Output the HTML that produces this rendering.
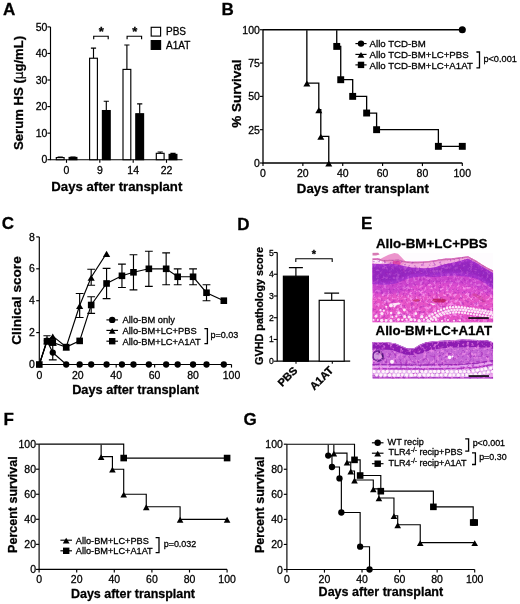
<!DOCTYPE html>
<html lang="en"><head><meta charset="utf-8"><title>Figure</title>
<style>html,body{margin:0;padding:0;background:#fff}svg{display:block}text{font-family:"Liberation Sans",sans-serif;fill:#000;stroke:#000;stroke-width:0.28px}</style>
</head><body>
<svg width="520" height="604" viewBox="0 0 520 604">
<rect width="520" height="604" fill="#fff"/>
<text x="3.00" y="14.60" font-size="17" font-weight="bold">A</text>
<text x="221.50" y="14.60" font-size="17" font-weight="bold">B</text>
<text x="1.80" y="228.90" font-size="17" font-weight="bold">C</text>
<text x="237.30" y="229.80" font-size="17" font-weight="bold">D</text>
<text x="361.10" y="228.70" font-size="17" font-weight="bold">E</text>
<text x="3.40" y="425.10" font-size="17" font-weight="bold">F</text>
<text x="243.50" y="425.40" font-size="17" font-weight="bold">G</text>
<path d="M50.5,26.90 V159.7 H182.5" fill="none" stroke="#000" stroke-width="1.15" />
<line x1="47.40" y1="159.70" x2="50.50" y2="159.70" stroke="#000" stroke-width="1.15"/>
<text x="47.40" y="163.30" font-size="10.5" text-anchor="end">0</text>
<line x1="47.40" y1="133.14" x2="50.50" y2="133.14" stroke="#000" stroke-width="1.15"/>
<text x="47.40" y="136.74" font-size="10.5" text-anchor="end">10</text>
<line x1="47.40" y1="106.58" x2="50.50" y2="106.58" stroke="#000" stroke-width="1.15"/>
<text x="47.40" y="110.18" font-size="10.5" text-anchor="end">20</text>
<line x1="47.40" y1="80.02" x2="50.50" y2="80.02" stroke="#000" stroke-width="1.15"/>
<text x="47.40" y="83.62" font-size="10.5" text-anchor="end">30</text>
<line x1="47.40" y1="53.46" x2="50.50" y2="53.46" stroke="#000" stroke-width="1.15"/>
<text x="47.40" y="57.06" font-size="10.5" text-anchor="end">40</text>
<line x1="47.40" y1="26.90" x2="50.50" y2="26.90" stroke="#000" stroke-width="1.15"/>
<text x="47.40" y="30.50" font-size="10.5" text-anchor="end">50</text>
<line x1="66.50" y1="159.70" x2="66.50" y2="162.80" stroke="#000" stroke-width="1.15"/>
<text x="66.50" y="174.10" font-size="10.5" text-anchor="middle">0</text>
<line x1="99.80" y1="159.70" x2="99.80" y2="162.80" stroke="#000" stroke-width="1.15"/>
<text x="99.80" y="174.10" font-size="10.5" text-anchor="middle">9</text>
<line x1="133.20" y1="159.70" x2="133.20" y2="162.80" stroke="#000" stroke-width="1.15"/>
<text x="133.20" y="174.10" font-size="10.5" text-anchor="middle">14</text>
<line x1="166.50" y1="159.70" x2="166.50" y2="162.80" stroke="#000" stroke-width="1.15"/>
<text x="166.50" y="174.10" font-size="10.5" text-anchor="middle">22</text>
<path d="M57.60,157.04 H62.80 M60.20,157.04 V157.58" fill="none" stroke="#000" stroke-width="1.15" />
<path d="M70.40,157.04 H75.60 M73.00,157.04 V157.44" fill="none" stroke="#000" stroke-width="1.15" />
<rect x="56.30" y="157.58" width="7.8" height="2.12" fill="#fff" stroke="#000" stroke-width="1.15"/>
<rect x="69.10" y="157.44" width="7.8" height="2.26" fill="#000" stroke="#000" stroke-width="1.15"/>
<path d="M90.90,48.15 H96.10 M93.50,48.15 V58.24" fill="none" stroke="#000" stroke-width="1.15" />
<path d="M103.70,101.27 H108.90 M106.30,101.27 V110.56" fill="none" stroke="#000" stroke-width="1.15" />
<rect x="89.60" y="58.24" width="7.8" height="101.46" fill="#fff" stroke="#000" stroke-width="1.15"/>
<rect x="102.40" y="110.56" width="7.8" height="49.14" fill="#000" stroke="#000" stroke-width="1.15"/>
<path d="M124.30,44.96 H129.50 M126.90,44.96 V69.40" fill="none" stroke="#000" stroke-width="1.15" />
<path d="M137.10,103.92 H142.30 M139.70,103.92 V113.75" fill="none" stroke="#000" stroke-width="1.15" />
<rect x="123.00" y="69.40" width="7.8" height="90.30" fill="#fff" stroke="#000" stroke-width="1.15"/>
<rect x="135.80" y="113.75" width="7.8" height="45.95" fill="#000" stroke="#000" stroke-width="1.15"/>
<path d="M157.60,152.00 H162.80 M160.20,152.00 V153.33" fill="none" stroke="#000" stroke-width="1.15" />
<path d="M170.40,153.33 H175.60 M173.00,153.33 V154.39" fill="none" stroke="#000" stroke-width="1.15" />
<rect x="156.30" y="153.33" width="7.8" height="6.37" fill="#fff" stroke="#000" stroke-width="1.15"/>
<rect x="169.10" y="154.39" width="7.8" height="5.31" fill="#000" stroke="#000" stroke-width="1.15"/>
<path d="M93.70,39.3 V36.2 H108.20 V39.3" fill="none" stroke="#000" stroke-width="1.15" />
<text x="101.40" y="36.20" font-size="13" text-anchor="middle" font-weight="bold">*</text>
<path d="M127.10,39.3 V36.2 H141.60 V39.3" fill="none" stroke="#000" stroke-width="1.15" />
<text x="134.80" y="36.20" font-size="13" text-anchor="middle" font-weight="bold">*</text>
<rect x="151.2" y="27.3" width="9.4" height="8.8" fill="#fff" stroke="#000" stroke-width="1.15"/>
<rect x="151.2" y="40.6" width="9.4" height="8.8" fill="#000" stroke="#000" stroke-width="1.15"/>
<text x="166.00" y="35.30" font-size="10">PBS</text>
<text x="166.00" y="48.60" font-size="10">A1AT</text>
<text x="116.80" y="191.00" font-size="13" text-anchor="middle" font-weight="bold" textLength="131.0" lengthAdjust="spacingAndGlyphs">Days after transplant</text>
<text x="23.20" y="92.90" font-size="13.15" text-anchor="middle" font-weight="bold" transform="rotate(-90 23.20 92.90)">Serum HS (<tspan font-family="'DejaVu Sans',sans-serif" font-weight="normal" font-size="12">μ</tspan>g/mL)</text>
<path d="M263.0,29.75 V163.0 H462.30" fill="none" stroke="#000" stroke-width="1.3" />
<line x1="259.90" y1="163.00" x2="263.00" y2="163.00" stroke="#000" stroke-width="1.15"/>
<text x="259.90" y="167.00" font-size="10.5" text-anchor="end">0</text>
<line x1="259.90" y1="129.69" x2="263.00" y2="129.69" stroke="#000" stroke-width="1.15"/>
<text x="259.90" y="133.69" font-size="10.5" text-anchor="end">25</text>
<line x1="259.90" y1="96.38" x2="263.00" y2="96.38" stroke="#000" stroke-width="1.15"/>
<text x="259.90" y="100.38" font-size="10.5" text-anchor="end">50</text>
<line x1="259.90" y1="63.06" x2="263.00" y2="63.06" stroke="#000" stroke-width="1.15"/>
<text x="259.90" y="67.06" font-size="10.5" text-anchor="end">75</text>
<line x1="259.90" y1="29.75" x2="263.00" y2="29.75" stroke="#000" stroke-width="1.15"/>
<text x="259.90" y="33.75" font-size="10.5" text-anchor="end">100</text>
<line x1="263.00" y1="163.00" x2="263.00" y2="166.10" stroke="#000" stroke-width="1.15"/>
<text x="263.00" y="176.50" font-size="10.5" text-anchor="middle">0</text>
<line x1="302.86" y1="163.00" x2="302.86" y2="166.10" stroke="#000" stroke-width="1.15"/>
<text x="302.86" y="176.50" font-size="10.5" text-anchor="middle">20</text>
<line x1="342.72" y1="163.00" x2="342.72" y2="166.10" stroke="#000" stroke-width="1.15"/>
<text x="342.72" y="176.50" font-size="10.5" text-anchor="middle">40</text>
<line x1="382.58" y1="163.00" x2="382.58" y2="166.10" stroke="#000" stroke-width="1.15"/>
<text x="382.58" y="176.50" font-size="10.5" text-anchor="middle">60</text>
<line x1="422.44" y1="163.00" x2="422.44" y2="166.10" stroke="#000" stroke-width="1.15"/>
<text x="422.44" y="176.50" font-size="10.5" text-anchor="middle">80</text>
<line x1="462.30" y1="163.00" x2="462.30" y2="166.10" stroke="#000" stroke-width="1.15"/>
<text x="462.30" y="176.50" font-size="10.5" text-anchor="middle">100</text>
<text x="362.80" y="192.80" font-size="13.2" text-anchor="middle" font-weight="bold" textLength="132.0" lengthAdjust="spacingAndGlyphs">Days after transplant</text>
<text x="240.80" y="93.50" font-size="13.5" text-anchor="middle" font-weight="bold" transform="rotate(-90 240.80 93.50)">% Survival</text>
<path d="M263.00,29.75 H462.30" fill="none" stroke="#000" stroke-width="1.3" />
<circle cx="462.30" cy="29.75" r="3.55" fill="#000"/>
<path d="M306.85,30.25 H306.85 V83.05 H318.80 V109.70 H320.80 V136.35 H328.77 V163.00" fill="none" stroke="#000" stroke-width="1.3" />
<path d="M306.85,80.53 L310.35,86.53 L303.35,86.53 Z" fill="#000"/>
<path d="M318.80,107.18 L322.30,113.18 L315.30,113.18 Z" fill="#000"/>
<path d="M320.80,133.83 L324.30,139.83 L317.30,139.83 Z" fill="#000"/>
<path d="M328.77,160.48 L332.27,166.48 L325.27,166.48 Z" fill="#000"/>
<path d="M336.74,30.25 H336.74 V46.41 H340.73 V79.72 H352.69 V96.38 H366.64 V113.03 H376.60 V129.69 H438.38 V146.34 H462.30" fill="none" stroke="#000" stroke-width="1.3" />
<rect x="333.29" y="42.96" width="6.9" height="6.9" fill="#000"/>
<rect x="337.28" y="76.27" width="6.9" height="6.9" fill="#000"/>
<rect x="349.24" y="92.92" width="6.9" height="6.9" fill="#000"/>
<rect x="363.19" y="109.58" width="6.9" height="6.9" fill="#000"/>
<rect x="373.15" y="126.24" width="6.9" height="6.9" fill="#000"/>
<rect x="434.93" y="142.89" width="6.9" height="6.9" fill="#000"/>
<rect x="458.85" y="142.89" width="6.9" height="6.9" fill="#000"/>
<line x1="355.40" y1="43.60" x2="366.60" y2="43.60" stroke="#000" stroke-width="1.15"/>
<circle cx="361.00" cy="43.60" r="3.2" fill="#000"/>
<line x1="355.40" y1="54.40" x2="366.60" y2="54.40" stroke="#000" stroke-width="1.15"/>
<path d="M361.00,52.01 L364.40,57.71 L357.60,57.71 Z" fill="#000"/>
<line x1="355.40" y1="64.90" x2="366.60" y2="64.90" stroke="#000" stroke-width="1.15"/>
<rect x="357.80" y="61.70" width="6.4" height="6.4" fill="#000"/>
<text x="369.60" y="47.20" font-size="9.66">Allo TCD-BM</text>
<text x="369.60" y="57.90" font-size="9.66">Allo TCD-BM+LC+PBS</text>
<text x="369.60" y="68.50" font-size="9.66">Allo TCD-BM+LC+A1AT</text>
<path d="M476.4,52 H479.5 V67.9 H476.4" fill="none" stroke="#000" stroke-width="1.3" />
<text x="483.40" y="61.50" font-size="9.2">p&lt;0.001</text>
<path d="M39.3,236.90 V364.5 H231.50" fill="none" stroke="#000" stroke-width="1.15" />
<line x1="36.20" y1="364.50" x2="39.30" y2="364.50" stroke="#000" stroke-width="1.15"/>
<text x="34.80" y="368.10" font-size="10.5" text-anchor="end">0</text>
<line x1="36.20" y1="332.60" x2="39.30" y2="332.60" stroke="#000" stroke-width="1.15"/>
<text x="34.80" y="336.20" font-size="10.5" text-anchor="end">2</text>
<line x1="36.20" y1="300.70" x2="39.30" y2="300.70" stroke="#000" stroke-width="1.15"/>
<text x="34.80" y="304.30" font-size="10.5" text-anchor="end">4</text>
<line x1="36.20" y1="268.80" x2="39.30" y2="268.80" stroke="#000" stroke-width="1.15"/>
<text x="34.80" y="272.40" font-size="10.5" text-anchor="end">6</text>
<line x1="36.20" y1="236.90" x2="39.30" y2="236.90" stroke="#000" stroke-width="1.15"/>
<text x="34.80" y="240.50" font-size="10.5" text-anchor="end">8</text>
<line x1="39.30" y1="364.50" x2="39.30" y2="367.60" stroke="#000" stroke-width="1.15"/>
<text x="39.30" y="378.90" font-size="10.5" text-anchor="middle">0</text>
<line x1="77.74" y1="364.50" x2="77.74" y2="367.60" stroke="#000" stroke-width="1.15"/>
<text x="77.74" y="378.90" font-size="10.5" text-anchor="middle">20</text>
<line x1="116.18" y1="364.50" x2="116.18" y2="367.60" stroke="#000" stroke-width="1.15"/>
<text x="116.18" y="378.90" font-size="10.5" text-anchor="middle">40</text>
<line x1="154.62" y1="364.50" x2="154.62" y2="367.60" stroke="#000" stroke-width="1.15"/>
<text x="154.62" y="378.90" font-size="10.5" text-anchor="middle">60</text>
<line x1="193.06" y1="364.50" x2="193.06" y2="367.60" stroke="#000" stroke-width="1.15"/>
<text x="193.06" y="378.90" font-size="10.5" text-anchor="middle">80</text>
<line x1="231.50" y1="364.50" x2="231.50" y2="367.60" stroke="#000" stroke-width="1.15"/>
<text x="231.50" y="378.90" font-size="10.5" text-anchor="middle">100</text>
<text x="135.60" y="394.00" font-size="13" text-anchor="middle" font-weight="bold" textLength="126.9" lengthAdjust="spacingAndGlyphs">Days after transplant</text>
<text x="21.20" y="300.50" font-size="13.6" text-anchor="middle" font-weight="bold" transform="rotate(-90 21.20 300.50)">Clinical score</text>
<path d="M48.85,345.20 H56.65 M52.75,345.20 V359.87 M48.85,359.87 H56.65" fill="none" stroke="#000" stroke-width="1.15" />
<path d="M43.39,335.79 H50.59 M46.99,335.79 V340.57" fill="none" stroke="#000" stroke-width="1.15" />
<path d="M75.76,293.52 H83.56 M79.66,293.52 V317.45 M75.76,317.45 H83.56" fill="none" stroke="#000" stroke-width="1.15" />
<path d="M87.29,269.28 H95.09 M91.19,269.28 V285.23 M87.29,285.23 H95.09" fill="none" stroke="#000" stroke-width="1.15" />
<path d="M87.29,296.71 H95.09 M91.19,296.71 V313.30 M87.29,313.30 H95.09" fill="none" stroke="#000" stroke-width="1.15" />
<path d="M102.67,268.32 H110.47 M106.57,268.32 V298.63 M102.67,298.63 H110.47" fill="none" stroke="#000" stroke-width="1.15" />
<path d="M118.05,264.17 H125.85 M121.95,264.17 V287.46 M118.05,287.46 H125.85" fill="none" stroke="#000" stroke-width="1.15" />
<path d="M129.58,254.76 H137.38 M133.48,254.76 V289.85 M129.58,289.85 H137.38" fill="none" stroke="#000" stroke-width="1.15" />
<path d="M144.95,251.25 H152.75 M148.85,251.25 V286.35 M144.95,286.35 H152.75" fill="none" stroke="#000" stroke-width="1.15" />
<path d="M162.25,252.85 H170.05 M166.15,252.85 V284.75 M162.25,284.75 H170.05" fill="none" stroke="#000" stroke-width="1.15" />
<path d="M173.78,268.80 H181.58 M177.68,268.80 V284.75 M173.78,284.75 H181.58" fill="none" stroke="#000" stroke-width="1.15" />
<path d="M189.16,268.80 H196.96 M193.06,268.80 V284.75 M189.16,284.75 H196.96" fill="none" stroke="#000" stroke-width="1.15" />
<path d="M202.61,284.75 H210.41 M206.51,284.75 V300.70 M202.61,300.70 H210.41" fill="none" stroke="#000" stroke-width="1.15" />
<path d="M39.30,364.50 L46.99,340.57 L52.75,352.54 L66.21,364.50 L79.66,364.50 L91.19,364.50 L106.57,364.50 L121.95,364.50 L133.48,364.50 L148.85,364.50 L166.15,364.50 L177.68,364.50 L193.06,364.50 L206.51,364.50 L223.81,364.50" fill="none" stroke="#000" stroke-width="1.15" />
<path d="M39.30,364.50 L46.99,340.57 L52.75,336.11 L66.21,346.95 L79.66,305.49 L91.19,277.25 L106.57,253.33" fill="none" stroke="#000" stroke-width="1.15" />
<path d="M39.30,364.50 L46.99,341.37 L52.75,342.49 L66.21,347.11 L79.66,340.89 L91.19,305.01 L106.57,283.47 L121.95,275.82 L133.48,272.31 L148.85,268.80 L166.15,268.80 L177.68,276.77 L193.06,276.77 L206.51,292.73 L223.81,300.70" fill="none" stroke="#000" stroke-width="1.15" />
<circle cx="46.99" cy="340.57" r="3.15" fill="#000"/>
<circle cx="52.75" cy="352.54" r="3.15" fill="#000"/>
<circle cx="66.21" cy="364.50" r="3.15" fill="#000"/>
<circle cx="79.66" cy="364.50" r="3.15" fill="#000"/>
<circle cx="91.19" cy="364.50" r="3.15" fill="#000"/>
<circle cx="106.57" cy="364.50" r="3.15" fill="#000"/>
<circle cx="121.95" cy="364.50" r="3.15" fill="#000"/>
<circle cx="133.48" cy="364.50" r="3.15" fill="#000"/>
<circle cx="148.85" cy="364.50" r="3.15" fill="#000"/>
<circle cx="166.15" cy="364.50" r="3.15" fill="#000"/>
<circle cx="177.68" cy="364.50" r="3.15" fill="#000"/>
<circle cx="193.06" cy="364.50" r="3.15" fill="#000"/>
<circle cx="206.51" cy="364.50" r="3.15" fill="#000"/>
<circle cx="223.81" cy="364.50" r="3.15" fill="#000"/>
<path d="M46.99,337.97 L50.59,344.17 L43.39,344.17 Z" fill="#000"/>
<path d="M52.75,333.50 L56.35,339.70 L49.15,339.70 Z" fill="#000"/>
<path d="M66.21,344.35 L69.81,350.55 L62.61,350.55 Z" fill="#000"/>
<path d="M79.66,302.88 L83.26,309.08 L76.06,309.08 Z" fill="#000"/>
<path d="M91.19,274.65 L94.79,280.85 L87.59,280.85 Z" fill="#000"/>
<path d="M106.57,250.72 L110.17,256.92 L102.97,256.92 Z" fill="#000"/>
<rect x="36.00" y="361.20" width="6.6" height="6.6" fill="#000"/>
<rect x="43.69" y="338.07" width="6.6" height="6.6" fill="#000"/>
<rect x="49.45" y="339.19" width="6.6" height="6.6" fill="#000"/>
<rect x="62.91" y="343.81" width="6.6" height="6.6" fill="#000"/>
<rect x="76.36" y="337.59" width="6.6" height="6.6" fill="#000"/>
<rect x="87.89" y="301.71" width="6.6" height="6.6" fill="#000"/>
<rect x="103.27" y="280.17" width="6.6" height="6.6" fill="#000"/>
<rect x="118.65" y="272.52" width="6.6" height="6.6" fill="#000"/>
<rect x="130.18" y="269.01" width="6.6" height="6.6" fill="#000"/>
<rect x="145.55" y="265.50" width="6.6" height="6.6" fill="#000"/>
<rect x="162.85" y="265.50" width="6.6" height="6.6" fill="#000"/>
<rect x="174.38" y="273.47" width="6.6" height="6.6" fill="#000"/>
<rect x="189.76" y="273.47" width="6.6" height="6.6" fill="#000"/>
<rect x="203.21" y="289.43" width="6.6" height="6.6" fill="#000"/>
<rect x="220.51" y="297.40" width="6.6" height="6.6" fill="#000"/>
<line x1="106.40" y1="319.90" x2="118.00" y2="319.90" stroke="#000" stroke-width="1.15"/>
<circle cx="112.20" cy="319.90" r="3.2" fill="#000"/>
<line x1="106.40" y1="330.40" x2="118.00" y2="330.40" stroke="#000" stroke-width="1.15"/>
<path d="M112.20,328.01 L115.60,333.71 L108.80,333.71 Z" fill="#000"/>
<line x1="106.40" y1="341.20" x2="118.00" y2="341.20" stroke="#000" stroke-width="1.15"/>
<rect x="109.00" y="338.00" width="6.4" height="6.4" fill="#000"/>
<text x="122.50" y="323.10" font-size="9.35">Allo-BM only</text>
<text x="122.50" y="333.70" font-size="9.35">Allo-BM+LC+PBS</text>
<text x="122.50" y="344.70" font-size="9.35">Allo-BM+LC+A1AT</text>
<path d="M204.4,328.6 H207.4 V343.6 H204.4" fill="none" stroke="#000" stroke-width="1.3" />
<text x="210.60" y="337.90" font-size="9">p=0.03</text>
<path d="M277.2,252.50 V361.2 H350.2" fill="none" stroke="#000" stroke-width="1.2" />
<line x1="273.60" y1="361.20" x2="277.20" y2="361.20" stroke="#000" stroke-width="1.1"/>
<text x="273.70" y="364.20" font-size="8.6" text-anchor="end">0</text>
<line x1="273.60" y1="339.46" x2="277.20" y2="339.46" stroke="#000" stroke-width="1.1"/>
<text x="273.70" y="342.46" font-size="8.6" text-anchor="end">1</text>
<line x1="273.60" y1="317.72" x2="277.20" y2="317.72" stroke="#000" stroke-width="1.1"/>
<text x="273.70" y="320.72" font-size="8.6" text-anchor="end">2</text>
<line x1="273.60" y1="295.98" x2="277.20" y2="295.98" stroke="#000" stroke-width="1.1"/>
<text x="273.70" y="298.98" font-size="8.6" text-anchor="end">3</text>
<line x1="273.60" y1="274.24" x2="277.20" y2="274.24" stroke="#000" stroke-width="1.1"/>
<text x="273.70" y="277.24" font-size="8.6" text-anchor="end">4</text>
<line x1="273.60" y1="252.50" x2="277.20" y2="252.50" stroke="#000" stroke-width="1.1"/>
<text x="273.70" y="255.50" font-size="8.6" text-anchor="end">5</text>
<path d="M288.90,267.72 H302.90 M295.90,267.72 V276.20" fill="none" stroke="#000" stroke-width="1.2" />
<path d="M324.30,293.15 H339.10 M331.70,293.15 V300.33" fill="none" stroke="#000" stroke-width="1.2" />
<rect x="283.4" y="276.20" width="25" height="85.00" fill="#000" stroke="#000" stroke-width="1.2"/>
<rect x="319.2" y="300.33" width="25" height="60.87" fill="#fff" stroke="#000" stroke-width="1.2"/>
<path d="M295.8,262 V258.8 H332.2 V262" fill="none" stroke="#000" stroke-width="1.1" />
<text x="314.00" y="257.50" font-size="11" text-anchor="middle" font-weight="bold">*</text>
<text x="263.20" y="306.00" font-size="10.5" text-anchor="middle" font-weight="bold" textLength="118.0" lengthAdjust="spacingAndGlyphs" transform="rotate(-90 263.20 306.00)">GVHD pathology score</text>
<text x="298.20" y="371.20" font-size="11" text-anchor="end" font-weight="bold" transform="rotate(-45 298.20 371.20)">PBS</text>
<line x1="296.00" y1="361.20" x2="296.00" y2="363.80" stroke="#000" stroke-width="1.1"/>
<line x1="332.30" y1="361.20" x2="332.30" y2="363.80" stroke="#000" stroke-width="1.1"/>
<text x="334.00" y="371.00" font-size="11" text-anchor="end" font-weight="bold" transform="rotate(-45 334.00 371.00)">A1AT</text>
<text x="431.70" y="248.10" font-size="12.6" text-anchor="middle" font-weight="bold" textLength="111.6" lengthAdjust="spacingAndGlyphs">Allo-BM+LC+PBS</text>
<text x="433.80" y="335.00" font-size="12.5" text-anchor="middle" font-weight="bold" textLength="116.4" lengthAdjust="spacingAndGlyphs">Allo-BM+LC+A1AT</text>
<defs>
<filter id="nzL" x="0" y="0" width="100%" height="100%" filterUnits="objectBoundingBox" color-interpolation-filters="sRGB">
<feTurbulence type="fractalNoise" baseFrequency="0.3" numOctaves="3" seed="4"/>
<feColorMatrix type="matrix" values="0 0 0 0 0.98  0 0 0 0 0.60  0 0 0 0 0.93  5 0 0 0 -2.55"/>
</filter>
<filter id="nzD" x="0" y="0" width="100%" height="100%" filterUnits="objectBoundingBox" color-interpolation-filters="sRGB">
<feTurbulence type="fractalNoise" baseFrequency="0.36" numOctaves="3" seed="11"/>
<feColorMatrix type="matrix" values="0 0 0 0 0.60  0 0 0 0 0.10  0 0 0 0 0.70  0 5 0 0 -2.65"/>
</filter>
<filter id="bl" x="-5%" y="-5%" width="110%" height="110%"><feGaussianBlur stdDeviation="0.45"/></filter>
<filter id="bl2" x="-10%" y="-10%" width="120%" height="120%"><feGaussianBlur stdDeviation="1.1"/></filter>
<clipPath id="im1"><rect x="372.3" y="252.6" width="121" height="69.9"/></clipPath>
<clipPath id="im2"><rect x="372.3" y="338" width="121" height="40.8"/></clipPath>
<clipPath id="ts1"><path d="M372.3,258.6 L378.0,258.2 L384.0,260.0 L390.0,259.4 L398.0,259.2 L406.0,261.2 L412.0,261.8 L423.0,261.4 L429.0,261.0 L435.0,260.2 L440.0,259.2 L446.0,258.6 L452.0,258.2 L458.0,257.4 L468.0,256.2 L476.0,260.4 L482.0,264.4 L488.0,268.0 L493.3,270.6 V322.5 H372.3 Z"/></clipPath>
<clipPath id="ts2"><path d="M372.3,342.0 L384.0,342.0 L395.0,343.2 L401.0,345.8 L407.5,348.6 L414.0,348.2 L420.0,344.6 L426.0,342.2 L434.0,341.2 L445.0,340.6 L452.0,340.2 L463.0,339.4 L478.0,340.0 L488.0,340.4 L493.3,342.4 V378.8 H372.3 Z"/></clipPath>
</defs>
<g clip-path="url(#im1)">
<rect x="372.3" y="252.6" width="121" height="69.9" fill="#fefcfe"/>
<g filter="url(#bl)">
<path d="M372.3,252.8 L378,252.6 L379.6,254.4 L376,255.6 L372.3,255.4 Z" fill="#d77ab4"/>
<path d="M378.6,260 L383,257.6 L388.6,254.8 L394.4,253 L398,253.8 L401,256.8 L405.4,261.4 L403,264.4 L398,266.4 L392,265.4 L388,262.6 L382,261.4 Z" fill="#ec94cc"/>
</g>
<g clip-path="url(#ts1)">
<rect x="372.3" y="252.6" width="121" height="69.9" fill="#de4ecf"/>
<path filter="url(#bl2)" d="M370,298 L395,294 L420,296 L445,292 L470,295 L496,294 V325 H370 Z" fill="#e856c4" opacity="0.8"/>
<rect x="372.3" y="252.6" width="121" height="69.9" filter="url(#nzL)" opacity="0.8"/>
<path d="M372.3,257.6 L378.0,257.2 L384.0,259.0 L390.0,258.4 L398.0,258.2 L406.0,260.2 L412.0,260.8 L423.0,260.4 L429.0,260.0 L435.0,259.2 L440.0,258.2 L446.0,257.6 L452.0,257.2 L458.0,256.4 L468.0,255.2 L476.0,259.4 L482.0,263.4 L488.0,267.0 L493.3,269.6 L496,276 L496.0,275.2 L484.0,268.2 L476.0,263.2 L468.0,259.2 L458.0,262.0 L452.0,263.4 L446.0,264.6 L440.0,266.2 L436.0,267.6 L430.0,268.6 L423.0,268.8 L412.0,268.2 L406.0,267.0 L398.0,265.2 L390.0,264.2 L384.0,264.8 L378.0,264.6 L370.0,264.6 Z" fill="#f2addf"/>
<path d="M372.3,259 L380,259.4 L386,262 L380,263.4 L372.3,263 Z" fill="#fdf0fa" filter="url(#bl)"/>
<path d="M378.6,260 L383,257.6 L388.6,254.8 L394.4,253 L398,253.8 L401,256.8 L405.4,261.4 L403,264.4 L398,266.4 L392,265.4 L388,262.6 L382,261.4 Z" fill="#ec94cc" filter="url(#bl)"/>
<path d="M381,260.4 L388,256.8 L394,254.6 L399,256" fill="none" stroke="#f8cfe9" stroke-width="0.9" filter="url(#bl)"/>
<ellipse cx="396.8" cy="262.4" rx="4.2" ry="2.9" fill="#df4aa6" filter="url(#bl)"/>
<path d="M372.3,259.4 L378.0,259.0 L384.0,260.8 L390.0,260.2 L398.0,260.0 L406.0,262.0 L412.0,262.6 L423.0,262.2 L429.0,261.8 L435.0,261.0 L440.0,260.0 L446.0,259.4 L452.0,259.0 L458.0,258.2 L468.0,257.0 L476.0,261.2 L482.0,265.2 L488.0,268.8 L493.3,271.4" fill="none" stroke="#cf6cae" stroke-width="1.6" filter="url(#bl)"/>
<path filter="url(#bl2)" d="M370.0,283.0 L386.0,284.0 L396.0,282.6 L404.0,279.0 L412.0,276.6 L422.0,275.6 L434.0,276.0 L446.0,275.0 L456.0,274.6 L466.0,275.6 L476.0,277.6 L484.0,281.6 L490.0,286.0 L496.0,290.0 L496,297 L470,285 L440,283 L415,285 L400,292 L385,294 L370,292 Z" fill="#c03ccc" opacity="0.6"/>
<path filter="url(#bl)" d="M370.0,264.0 L378.0,264.0 L384.0,264.2 L390.0,263.6 L398.0,264.6 L406.0,266.4 L412.0,267.6 L423.0,268.2 L430.0,268.0 L436.0,267.0 L440.0,265.6 L446.0,264.0 L452.0,262.8 L458.0,261.4 L468.0,258.6 L476.0,262.6 L484.0,267.6 L496.0,274.6 L496.0,291.0 L490.0,287.0 L484.0,282.6 L476.0,278.6 L466.0,276.6 L456.0,275.6 L446.0,276.0 L434.0,277.0 L422.0,276.6 L412.0,277.6 L404.0,280.0 L396.0,283.6 L386.0,285.0 L370.0,284.0 Z" fill="#a632ce"/>
<path filter="url(#bl2)" d="M370.0,266.4 L378.0,266.4 L384.0,266.6 L390.0,266.0 L398.0,267.0 L406.0,268.8 L412.0,270.0 L423.0,270.6 L430.0,270.4 L436.0,269.4 L440.0,268.0 L446.0,266.4 L452.0,265.2 L458.0,263.8 L468.0,261.0 L476.0,265.0 L484.0,270.0 L496.0,277.0 L496.0,287.4 L490.0,283.4 L484.0,279.0 L476.0,275.0 L466.0,273.0 L456.0,272.0 L446.0,272.4 L434.0,273.4 L422.0,273.0 L412.0,274.0 L404.0,276.4 L396.0,280.0 L386.0,281.4 L370.0,280.4 Z" fill="#8a22b8" opacity="0.65"/>
<path filter="url(#bl)" d="M433,299 L441,298.2 L447,300 L444,302.4 L436,302.6 L432,301 Z" fill="#c2246a"/>
<path filter="url(#bl)" d="M412,300 L418,299 L421,300.6 L416,302 Z" fill="#cc3a7c"/>
<path filter="url(#bl)" d="M474,293 L481,296 L486,302 L483,303 L478,298 L472,295 Z" fill="#cf3f9a" opacity="0.7"/>
<rect x="372.3" y="252.6" width="121" height="69.9" filter="url(#nzL)" opacity="0.28"/>
<rect x="372.3" y="252.6" width="121" height="69.9" filter="url(#nzD)" opacity="0.4"/>
<g fill="#fde6f8" filter="url(#bl)">
<circle cx="426.5" cy="317.7" r="1.30"/>
<circle cx="427.9" cy="320.4" r="1.35"/>
<circle cx="426.7" cy="323.0" r="1.20"/>
<circle cx="429.4" cy="316.0" r="1.30"/>
<circle cx="430.9" cy="318.7" r="1.35"/>
<circle cx="429.6" cy="321.3" r="1.20"/>
<circle cx="432.4" cy="314.4" r="1.30"/>
<circle cx="433.8" cy="317.1" r="1.35"/>
<circle cx="432.6" cy="319.7" r="1.20"/>
<circle cx="435.3" cy="312.7" r="1.30"/>
<circle cx="436.8" cy="315.4" r="1.35"/>
<circle cx="435.5" cy="318.0" r="1.20"/>
<circle cx="438.3" cy="311.1" r="1.30"/>
<circle cx="439.7" cy="313.8" r="1.35"/>
<circle cx="438.5" cy="316.4" r="1.20"/>
<circle cx="441.2" cy="309.9" r="1.30"/>
<circle cx="442.7" cy="312.6" r="1.35"/>
<circle cx="441.4" cy="315.2" r="1.20"/>
<circle cx="444.2" cy="308.8" r="1.30"/>
<circle cx="445.6" cy="311.5" r="1.35"/>
<circle cx="444.4" cy="314.1" r="1.20"/>
<circle cx="447.1" cy="308.1" r="1.30"/>
<circle cx="448.6" cy="310.8" r="1.35"/>
<circle cx="447.3" cy="313.4" r="1.20"/>
<circle cx="450.1" cy="307.4" r="1.30"/>
<circle cx="451.5" cy="310.1" r="1.35"/>
<circle cx="450.3" cy="312.7" r="1.20"/>
<circle cx="453.0" cy="307.2" r="1.30"/>
<circle cx="454.5" cy="309.9" r="1.35"/>
<circle cx="453.2" cy="312.5" r="1.20"/>
<circle cx="456.0" cy="307.0" r="1.30"/>
<circle cx="457.4" cy="309.7" r="1.35"/>
<circle cx="456.2" cy="312.3" r="1.20"/>
<circle cx="458.9" cy="307.2" r="1.30"/>
<circle cx="460.4" cy="309.9" r="1.35"/>
<circle cx="459.1" cy="312.5" r="1.20"/>
<circle cx="461.9" cy="307.4" r="1.30"/>
<circle cx="463.3" cy="310.1" r="1.35"/>
<circle cx="462.1" cy="312.7" r="1.20"/>
<circle cx="464.8" cy="307.7" r="1.30"/>
<circle cx="466.3" cy="310.4" r="1.35"/>
<circle cx="465.0" cy="313.0" r="1.20"/>
<circle cx="467.8" cy="308.2" r="1.30"/>
<circle cx="469.2" cy="310.9" r="1.35"/>
<circle cx="468.0" cy="313.5" r="1.20"/>
<circle cx="470.7" cy="308.6" r="1.30"/>
<circle cx="472.2" cy="311.3" r="1.35"/>
<circle cx="470.9" cy="313.9" r="1.20"/>
<circle cx="473.7" cy="309.1" r="1.30"/>
<circle cx="475.1" cy="311.8" r="1.35"/>
<circle cx="473.9" cy="314.4" r="1.20"/>
<circle cx="476.6" cy="309.5" r="1.30"/>
<circle cx="478.1" cy="312.2" r="1.35"/>
<circle cx="476.8" cy="314.8" r="1.20"/>
<circle cx="479.6" cy="309.9" r="1.30"/>
<circle cx="481.0" cy="312.6" r="1.35"/>
<circle cx="479.8" cy="315.2" r="1.20"/>
<circle cx="482.5" cy="310.4" r="1.30"/>
<circle cx="484.0" cy="313.1" r="1.35"/>
<circle cx="482.7" cy="315.7" r="1.20"/>
<circle cx="485.5" cy="310.9" r="1.30"/>
<circle cx="486.9" cy="313.6" r="1.35"/>
<circle cx="485.7" cy="316.2" r="1.20"/>
<circle cx="488.4" cy="311.5" r="1.30"/>
<circle cx="489.9" cy="314.2" r="1.35"/>
<circle cx="488.6" cy="316.8" r="1.20"/>
<circle cx="491.4" cy="312.1" r="1.30"/>
<circle cx="492.8" cy="314.8" r="1.35"/>
<circle cx="491.6" cy="317.4" r="1.20"/>
<circle cx="386.2" cy="306.8" r="1.04"/>
<circle cx="394.4" cy="306.4" r="1.06"/>
<circle cx="380.5" cy="310.0" r="1.10"/>
<circle cx="383.8" cy="310.7" r="1.13"/>
<circle cx="404.4" cy="309.9" r="1.48"/>
<circle cx="382.0" cy="313.6" r="1.61"/>
<circle cx="391.1" cy="313.1" r="1.29"/>
<circle cx="398.7" cy="313.0" r="1.47"/>
<circle cx="415.8" cy="313.7" r="1.41"/>
<circle cx="376.0" cy="316.3" r="1.49"/>
<circle cx="392.3" cy="317.1" r="1.02"/>
<circle cx="396.2" cy="316.4" r="1.04"/>
<circle cx="404.7" cy="316.7" r="1.61"/>
<circle cx="409.2" cy="317.0" r="1.62"/>
<circle cx="421.8" cy="316.7" r="1.62"/>
<circle cx="373.0" cy="319.8" r="1.16"/>
<circle cx="377.8" cy="319.9" r="1.00"/>
<circle cx="381.7" cy="320.3" r="1.67"/>
<circle cx="386.1" cy="320.4" r="1.47"/>
<circle cx="390.9" cy="320.6" r="1.61"/>
<circle cx="398.5" cy="319.6" r="1.44"/>
<circle cx="402.2" cy="319.8" r="1.11"/>
<circle cx="406.4" cy="319.5" r="1.11"/>
<circle cx="411.1" cy="319.5" r="1.61"/>
<circle cx="414.9" cy="319.9" r="1.24"/>
<circle cx="419.1" cy="320.7" r="1.70"/>
<circle cx="423.9" cy="319.6" r="1.07"/>
<circle cx="427.7" cy="320.7" r="1.11"/>
<circle cx="391.0" cy="305.4" r="1.90"/>
<circle cx="395.0" cy="304.8" r="1.30"/>
<circle cx="436.0" cy="319.8" r="1.20"/>
<circle cx="442.0" cy="320.8" r="1.10"/>
<circle cx="448.0" cy="320.0" r="1.10"/>
<circle cx="454.0" cy="320.8" r="1.00"/>
<circle cx="460.0" cy="320.2" r="1.00"/>
<circle cx="491.0" cy="313.0" r="1.20"/>
<path d="M392,303.6 L399,302.4 L401,304 L394,305.6 Z"/><path d="M430,303 L436,304 L433,305.4 Z"/>
</g></g>
<rect x="468.4" y="317.2" width="20.4" height="1.7" fill="#120812"/>
</g>
<g clip-path="url(#im2)">
<rect x="372.3" y="338" width="121" height="40.8" fill="#fefcfe"/>
<g clip-path="url(#ts2)">
<rect x="372.3" y="338" width="121" height="40.8" fill="#c566d6"/>
<path filter="url(#bl)" d="M370,340 L372.3,341.5 L384.0,341.5 L395.0,342.7 L401.0,345.3 L407.5,348.1 L414.0,347.7 L420.0,344.1 L426.0,341.7 L434.0,340.7 L445.0,340.1 L452.0,339.7 L463.0,338.9 L478.0,339.5 L488.0,339.9 L493.3,341.9 L496.0,349.6 L488.0,347.8 L476.0,347.0 L464.0,347.2 L452.0,347.6 L440.0,348.4 L430.0,350.2 L422.0,353.2 L414.0,355.0 L406.0,354.8 L399.0,352.4 L392.0,350.0 L382.0,349.6 L370.0,350.0 Z" fill="#8c1eb2"/>
<path d="M372.3,342.4 L384.0,342.4 L395.0,343.6 L401.0,346.2 L407.5,349.0 L414.0,348.6 L420.0,345.0 L426.0,342.6 L434.0,341.6 L445.0,341.0 L452.0,340.6 L463.0,339.8 L478.0,340.4 L488.0,340.8 L493.3,342.8" fill="none" stroke="#d79ae0" stroke-width="0.9" filter="url(#bl)"/>
<circle cx="377.8" cy="356" r="5" fill="#cf9ade" stroke="#6a2294" stroke-width="1.9" filter="url(#bl)"/>
<path d="M378,351.6 Q383.4,353 383.2,359.6" fill="none" stroke="#4a1670" stroke-width="1.2" filter="url(#bl)"/>
<path d="M372.3,369 L420,369.4 L460,368.8 L478,367.6 L493.3,364.8 V377.4 H372.3 Z" fill="#e2b6ee"/>
<path d="M372.3,364.6 L420,365.0 L460,364.4 L478,363.2 L493.3,360.4" fill="none" stroke="#9a30b8" stroke-width="1.3" filter="url(#bl)"/>
<path d="M372.3,366.6 L420,367.0 L460,366.4 L478,365.2 L493.3,362.4" fill="none" stroke="#e6a8f0" stroke-width="2.2" filter="url(#bl)"/>
<path d="M372.3,368.7 L420,369.1 L460,368.5 L478,367.3 L493.3,364.5" fill="none" stroke="#b034c4" stroke-width="1.5" filter="url(#bl)"/>
<rect x="372.3" y="377.1" width="121" height="1.5" fill="#a83cc2" filter="url(#bl)"/>
<rect x="372.3" y="338" width="121" height="40.8" filter="url(#nzL)" opacity="0.6"/>
<rect x="372.3" y="338" width="121" height="40.8" filter="url(#nzD)" opacity="0.55"/>
<g fill="#fff4fb" filter="url(#bl)">
<circle cx="374.0" cy="371.5" r="1.78"/>
<circle cx="376.6" cy="375.0" r="1.46"/>
<circle cx="378.7" cy="371.5" r="1.41"/>
<circle cx="380.9" cy="375.0" r="1.79"/>
<circle cx="383.3" cy="371.5" r="1.68"/>
<circle cx="385.0" cy="375.0" r="1.55"/>
<circle cx="387.0" cy="371.5" r="1.71"/>
<circle cx="389.5" cy="375.0" r="1.71"/>
<circle cx="391.5" cy="371.5" r="1.49"/>
<circle cx="394.0" cy="375.0" r="1.79"/>
<circle cx="396.2" cy="371.5" r="1.72"/>
<circle cx="398.4" cy="375.0" r="1.70"/>
<circle cx="400.0" cy="371.5" r="1.61"/>
<circle cx="402.3" cy="375.0" r="1.41"/>
<circle cx="404.1" cy="371.5" r="1.51"/>
<circle cx="406.5" cy="375.0" r="1.68"/>
<circle cx="409.2" cy="371.5" r="1.58"/>
<circle cx="411.3" cy="375.0" r="1.80"/>
<circle cx="413.5" cy="371.5" r="1.55"/>
<circle cx="415.1" cy="375.0" r="1.49"/>
<circle cx="417.2" cy="371.5" r="1.48"/>
<circle cx="419.7" cy="375.0" r="1.76"/>
<circle cx="422.0" cy="371.5" r="1.59"/>
<circle cx="424.0" cy="375.0" r="1.72"/>
<circle cx="425.7" cy="371.5" r="1.66"/>
<circle cx="428.5" cy="375.0" r="1.71"/>
<circle cx="430.5" cy="371.5" r="1.59"/>
<circle cx="432.2" cy="375.0" r="1.72"/>
<circle cx="434.5" cy="371.5" r="1.72"/>
<circle cx="437.2" cy="375.0" r="1.56"/>
<circle cx="438.8" cy="371.5" r="1.78"/>
<circle cx="441.3" cy="375.0" r="1.47"/>
<circle cx="442.9" cy="371.5" r="1.46"/>
<circle cx="445.7" cy="375.0" r="1.72"/>
<circle cx="447.2" cy="371.5" r="1.73"/>
<circle cx="450.1" cy="375.0" r="1.66"/>
<circle cx="451.7" cy="371.5" r="1.62"/>
<circle cx="453.7" cy="375.0" r="1.41"/>
<circle cx="456.5" cy="371.5" r="1.66"/>
<circle cx="458.3" cy="375.0" r="1.77"/>
<circle cx="460.3" cy="371.5" r="1.75"/>
<circle cx="462.9" cy="375.0" r="1.48"/>
<circle cx="464.5" cy="371.5" r="1.52"/>
<circle cx="466.7" cy="375.0" r="1.63"/>
<circle cx="468.8" cy="371.5" r="1.57"/>
<circle cx="470.9" cy="375.0" r="1.76"/>
<circle cx="473.2" cy="370.9" r="1.58"/>
<circle cx="475.6" cy="374.4" r="1.76"/>
<circle cx="477.5" cy="370.2" r="1.77"/>
<circle cx="479.8" cy="373.7" r="1.61"/>
<circle cx="481.9" cy="369.5" r="1.41"/>
<circle cx="484.1" cy="373.0" r="1.47"/>
<circle cx="485.8" cy="368.7" r="1.72"/>
<circle cx="488.1" cy="372.2" r="1.59"/>
<circle cx="490.7" cy="368.0" r="1.62"/>
<circle cx="492.6" cy="371.5" r="1.61"/>
<circle cx="392" cy="361.8" r="2"/><circle cx="449.6" cy="357.4" r="1.8"/><circle cx="452.4" cy="356.4" r="1"/>

</g></g>
<rect x="468.6" y="375.2" width="20.4" height="1.7" fill="#120812"/>
</g>
<path d="M39.1,444.15 V569.4 H227.10" fill="none" stroke="#000" stroke-width="1.15" />
<line x1="36.00" y1="569.40" x2="39.10" y2="569.40" stroke="#000" stroke-width="1.15"/>
<text x="36.00" y="573.40" font-size="10.5" text-anchor="end">0</text>
<line x1="36.00" y1="544.35" x2="39.10" y2="544.35" stroke="#000" stroke-width="1.15"/>
<text x="36.00" y="548.35" font-size="10.5" text-anchor="end">20</text>
<line x1="36.00" y1="519.30" x2="39.10" y2="519.30" stroke="#000" stroke-width="1.15"/>
<text x="36.00" y="523.30" font-size="10.5" text-anchor="end">40</text>
<line x1="36.00" y1="494.25" x2="39.10" y2="494.25" stroke="#000" stroke-width="1.15"/>
<text x="36.00" y="498.25" font-size="10.5" text-anchor="end">60</text>
<line x1="36.00" y1="469.20" x2="39.10" y2="469.20" stroke="#000" stroke-width="1.15"/>
<text x="36.00" y="473.20" font-size="10.5" text-anchor="end">80</text>
<line x1="36.00" y1="444.15" x2="39.10" y2="444.15" stroke="#000" stroke-width="1.15"/>
<text x="36.00" y="448.15" font-size="10.5" text-anchor="end">100</text>
<line x1="39.10" y1="569.40" x2="39.10" y2="572.50" stroke="#000" stroke-width="1.15"/>
<text x="39.10" y="582.60" font-size="10.5" text-anchor="middle">0</text>
<line x1="76.70" y1="569.40" x2="76.70" y2="572.50" stroke="#000" stroke-width="1.15"/>
<text x="76.70" y="582.60" font-size="10.5" text-anchor="middle">20</text>
<line x1="114.30" y1="569.40" x2="114.30" y2="572.50" stroke="#000" stroke-width="1.15"/>
<text x="114.30" y="582.60" font-size="10.5" text-anchor="middle">40</text>
<line x1="151.90" y1="569.40" x2="151.90" y2="572.50" stroke="#000" stroke-width="1.15"/>
<text x="151.90" y="582.60" font-size="10.5" text-anchor="middle">60</text>
<line x1="189.50" y1="569.40" x2="189.50" y2="572.50" stroke="#000" stroke-width="1.15"/>
<text x="189.50" y="582.60" font-size="10.5" text-anchor="middle">80</text>
<line x1="227.10" y1="569.40" x2="227.10" y2="572.50" stroke="#000" stroke-width="1.15"/>
<text x="227.10" y="582.60" font-size="10.5" text-anchor="middle">100</text>
<text x="133.00" y="597.50" font-size="13" text-anchor="middle" font-weight="bold" textLength="124.0" lengthAdjust="spacingAndGlyphs">Days after transplant</text>
<text x="17.40" y="504.60" font-size="12.5" text-anchor="middle" font-weight="bold" transform="rotate(-90 17.40 504.60)">Percent survival</text>
<path d="M101.14,444.65 H101.14 V456.67 H112.42 V469.20 H123.70 V494.25 H146.26 V506.77 H180.10 V519.30 H227.10" fill="none" stroke="#000" stroke-width="1.15" />
<path d="M39.10,444.15 H123.70 V458.05 H227.10" fill="none" stroke="#000" stroke-width="1.15" />
<path d="M101.14,454.24 L104.44,460.04 L97.84,460.04 Z" fill="#000"/>
<path d="M112.42,466.76 L115.72,472.56 L109.12,472.56 Z" fill="#000"/>
<path d="M123.70,491.81 L127.00,497.61 L120.40,497.61 Z" fill="#000"/>
<path d="M146.26,504.34 L149.56,510.14 L142.96,510.14 Z" fill="#000"/>
<path d="M180.10,516.86 L183.40,522.66 L176.80,522.66 Z" fill="#000"/>
<path d="M227.10,516.86 L230.40,522.66 L223.80,522.66 Z" fill="#000"/>
<rect x="120.40" y="454.75" width="6.6" height="6.6" fill="#000"/>
<rect x="223.80" y="454.75" width="6.6" height="6.6" fill="#000"/>
<line x1="60.40" y1="540.20" x2="72.00" y2="540.20" stroke="#000" stroke-width="1.15"/>
<path d="M66.20,537.81 L69.60,543.51 L62.80,543.51 Z" fill="#000"/>
<line x1="60.40" y1="550.80" x2="72.00" y2="550.80" stroke="#000" stroke-width="1.15"/>
<rect x="63.00" y="547.60" width="6.4" height="6.4" fill="#000"/>
<text x="75.80" y="543.50" font-size="9.2">Allo-BM+LC+PBS</text>
<text x="75.80" y="554.30" font-size="9.2">Allo-BM+LC+A1AT</text>
<path d="M155.6,537.6 H159 V552.6 H155.6" fill="none" stroke="#000" stroke-width="1.3" />
<text x="163.70" y="547.30" font-size="8.95">p=0.032</text>
<path d="M286.9,444.20 V569.5 H474.70" fill="none" stroke="#000" stroke-width="1.15" />
<line x1="283.80" y1="569.50" x2="286.90" y2="569.50" stroke="#000" stroke-width="1.15"/>
<text x="282.90" y="573.50" font-size="10.5" text-anchor="end">0</text>
<line x1="283.80" y1="544.44" x2="286.90" y2="544.44" stroke="#000" stroke-width="1.15"/>
<text x="282.90" y="548.44" font-size="10.5" text-anchor="end">20</text>
<line x1="283.80" y1="519.38" x2="286.90" y2="519.38" stroke="#000" stroke-width="1.15"/>
<text x="282.90" y="523.38" font-size="10.5" text-anchor="end">40</text>
<line x1="283.80" y1="494.32" x2="286.90" y2="494.32" stroke="#000" stroke-width="1.15"/>
<text x="282.90" y="498.32" font-size="10.5" text-anchor="end">60</text>
<line x1="283.80" y1="469.26" x2="286.90" y2="469.26" stroke="#000" stroke-width="1.15"/>
<text x="282.90" y="473.26" font-size="10.5" text-anchor="end">80</text>
<line x1="283.80" y1="444.20" x2="286.90" y2="444.20" stroke="#000" stroke-width="1.15"/>
<text x="282.90" y="448.20" font-size="10.5" text-anchor="end">100</text>
<line x1="286.90" y1="569.50" x2="286.90" y2="572.60" stroke="#000" stroke-width="1.15"/>
<text x="286.90" y="582.60" font-size="10.5" text-anchor="middle">0</text>
<line x1="324.46" y1="569.50" x2="324.46" y2="572.60" stroke="#000" stroke-width="1.15"/>
<text x="324.46" y="582.60" font-size="10.5" text-anchor="middle">20</text>
<line x1="362.02" y1="569.50" x2="362.02" y2="572.60" stroke="#000" stroke-width="1.15"/>
<text x="362.02" y="582.60" font-size="10.5" text-anchor="middle">40</text>
<line x1="399.58" y1="569.50" x2="399.58" y2="572.60" stroke="#000" stroke-width="1.15"/>
<text x="399.58" y="582.60" font-size="10.5" text-anchor="middle">60</text>
<line x1="437.14" y1="569.50" x2="437.14" y2="572.60" stroke="#000" stroke-width="1.15"/>
<text x="437.14" y="582.60" font-size="10.5" text-anchor="middle">80</text>
<line x1="474.70" y1="569.50" x2="474.70" y2="572.60" stroke="#000" stroke-width="1.15"/>
<text x="474.70" y="582.60" font-size="10.5" text-anchor="middle">100</text>
<text x="380.90" y="596.40" font-size="13" text-anchor="middle" font-weight="bold" textLength="124.6" lengthAdjust="spacingAndGlyphs">Days after transplant</text>
<text x="263.90" y="504.80" font-size="12.5" text-anchor="middle" font-weight="bold" transform="rotate(-90 263.90 504.80)">Percent survival</text>
<path d="M328.22,444.70 H328.22 V455.60 H331.97 V467.00 H339.48 V478.41 H341.36 V512.49 H360.14 V546.70 H369.53 V569.50" fill="none" stroke="#000" stroke-width="1.15" />
<path d="M333.85,444.70 H333.85 V453.10 H347.00 V462.12 H350.75 V471.01 H354.51 V480.04 H373.29 V488.93 H378.92 V497.95 H393.95 V515.75 H397.70 V524.77 H420.24 V542.69 H474.70" fill="none" stroke="#000" stroke-width="1.15" />
<path d="M286.90,444.20 H354.51 V459.86 H360.14 V475.52 H380.80 V491.19 H433.38 V506.85 H473.20 V522.51 H474.70" fill="none" stroke="#000" stroke-width="1.15" />
<circle cx="328.22" cy="455.60" r="3.15" fill="#000"/>
<circle cx="331.97" cy="467.00" r="3.15" fill="#000"/>
<circle cx="339.48" cy="478.41" r="3.15" fill="#000"/>
<circle cx="341.36" cy="512.49" r="3.15" fill="#000"/>
<circle cx="360.14" cy="546.70" r="3.15" fill="#000"/>
<circle cx="369.53" cy="569.50" r="3.15" fill="#000"/>
<path d="M333.85,450.66 L337.15,456.46 L330.55,456.46 Z" fill="#000"/>
<path d="M347.00,459.68 L350.30,465.48 L343.70,465.48 Z" fill="#000"/>
<path d="M350.75,468.58 L354.05,474.38 L347.45,474.38 Z" fill="#000"/>
<path d="M354.51,477.60 L357.81,483.40 L351.21,483.40 Z" fill="#000"/>
<path d="M373.29,486.50 L376.59,492.30 L369.99,492.30 Z" fill="#000"/>
<path d="M378.92,495.52 L382.22,501.32 L375.62,501.32 Z" fill="#000"/>
<path d="M393.95,513.31 L397.25,519.11 L390.65,519.11 Z" fill="#000"/>
<path d="M397.70,522.33 L401.00,528.13 L394.40,528.13 Z" fill="#000"/>
<path d="M420.24,540.25 L423.54,546.05 L416.94,546.05 Z" fill="#000"/>
<path d="M474.70,540.25 L478.00,546.05 L471.40,546.05 Z" fill="#000"/>
<rect x="351.21" y="456.56" width="6.6" height="6.6" fill="#000"/>
<rect x="356.84" y="472.22" width="6.6" height="6.6" fill="#000"/>
<rect x="377.50" y="487.89" width="6.6" height="6.6" fill="#000"/>
<rect x="430.08" y="503.55" width="6.6" height="6.6" fill="#000"/>
<rect x="469.90" y="519.21" width="6.6" height="6.6" fill="#000"/>
<rect x="471.40" y="519.21" width="6.6" height="6.6" fill="#000"/>
<line x1="371.90" y1="442.80" x2="383.50" y2="442.80" stroke="#000" stroke-width="1.15"/>
<circle cx="377.70" cy="442.80" r="3.2" fill="#000"/>
<line x1="371.90" y1="453.20" x2="383.50" y2="453.20" stroke="#000" stroke-width="1.15"/>
<path d="M377.70,450.81 L381.10,456.51 L374.30,456.51 Z" fill="#000"/>
<line x1="371.90" y1="463.70" x2="383.50" y2="463.70" stroke="#000" stroke-width="1.15"/>
<rect x="374.50" y="460.50" width="6.4" height="6.4" fill="#000"/>
<text x="387.60" y="445.20" font-size="9.1">WT recip</text>
<text x="388.40" y="455.40" font-size="9.1">TLR4</text>
<text x="410.70" y="452.10" font-size="6.8">-/-</text>
<text x="419.40" y="455.40" font-size="9.1">recip+PBS</text>
<text x="388.40" y="465.90" font-size="9.1">TLR4</text>
<text x="410.70" y="462.60" font-size="6.8">-/-</text>
<text x="419.40" y="465.90" font-size="9.1">recip+A1AT</text>
<path d="M465.2,438.8 H468.6 V451.1 H465.2" fill="none" stroke="#000" stroke-width="1.3" />
<path d="M472,452.9 H475.4 V464.5 H472" fill="none" stroke="#000" stroke-width="1.3" />
<text x="472.70" y="445.60" font-size="8.9">p&lt;0.001</text>
<text x="479.20" y="459.80" font-size="8.9">p=0.30</text>
</svg>
</body></html>
